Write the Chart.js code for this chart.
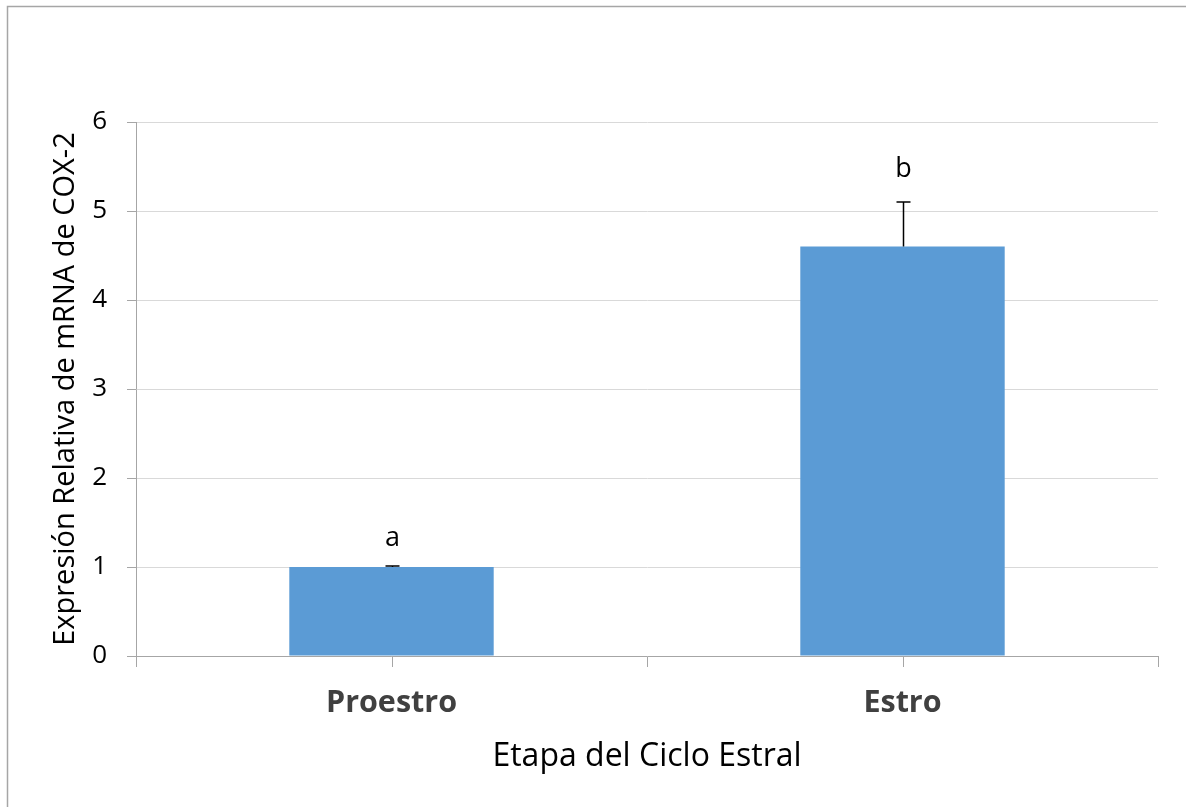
<!DOCTYPE html>
<html>
<head>
<meta charset="utf-8">
<script src="https://cdn.jsdelivr.net/npm/chart.js@4"></script>
<style>
  html, body { margin: 0; padding: 0; background: #fff; }
  #wrap { position: relative; width: 1186px; height: 807px; }
</style>
</head>
<body>
<div id="wrap"><canvas id="myChart" width="1186" height="807"></canvas></div>
<script>
// Expresión relativa de COX-2 por etapa del ciclo
const etapas = ['Proestro', 'Estro'];
const expresion = [1.0, 4.6];
const errorSup = [0.01, 0.5];
const letras = ['a', 'b'];
const yTicks = [0, 1, 2, 3, 4, 5, 6];

const FONT = '"Open Sans", "Noto Sans", sans-serif';

// gray frame along the top and left edges
const frame = {
    id: 'frame',
    beforeDraw(chart) {
        const ctx = chart.ctx;
        ctx.save();
        ctx.strokeStyle = '#a6a6a6';
        ctx.lineWidth = 1.5;
        ctx.beginPath();
        ctx.moveTo(7.5, chart.height);
        ctx.lineTo(7.5, 6.5);
        ctx.lineTo(chart.width, 6.5);
        ctx.stroke();
        ctx.restore();
    }
};

// extra tick marks under each category centre
const centerTicks = {
    id: 'centerTicks',
    afterDraw(chart) {
        const x = chart.scales.x;
        const ctx = chart.ctx;
        ctx.save();
        ctx.strokeStyle = '#a6a6a6';
        ctx.lineWidth = 1;
        etapas.forEach((e, i) => {
            const px = Math.round(x.getPixelForTick(i)) + 0.5;
            ctx.beginPath();
            ctx.moveTo(px, x.top);
            ctx.lineTo(px, x.top + 11);
            ctx.stroke();
        });
        ctx.restore();
    }
};

// upper error bars and significance letters
const errorBars = {
    id: 'errorBars',
    afterDatasetsDraw(chart) {
        const { ctx, scales: { x, y } } = chart;
        ctx.save();
        ctx.strokeStyle = '#000';
        ctx.fillStyle = '#000';
        ctx.lineWidth = 1.5;
        ctx.font = '27px ' + FONT;
        ctx.textAlign = 'center';
        ctx.textBaseline = 'alphabetic';
        expresion.forEach((v, i) => {
            const px = Math.round(x.getPixelForValue(i)) + 0.5;
            const base = y.getPixelForValue(v);
            const top = y.getPixelForValue(v + errorSup[i]);
            ctx.beginPath();
            ctx.moveTo(px, base);
            ctx.lineTo(px, top);
            ctx.moveTo(px - 7, top);
            ctx.lineTo(px + 7, top);
            ctx.stroke();
            ctx.fillText(letras[i], px, top - (i === 0 ? 20 : 25));
        });
        ctx.restore();
    }
};

const ctx = document.getElementById('myChart').getContext('2d');
const chart = new Chart(ctx, {
    type: 'bar',
    data: {
        labels: etapas,
        datasets: [{
            data: expresion,
            backgroundColor: '#5b9bd5',
            borderWidth: 0,
            barPercentage: 0.4,
            categoryPercentage: 1.0
        }]
    },
    options: {
        responsive: false,
        animation: false,
        devicePixelRatio: 1,
        layout: { padding: { top: 122, right: 28, bottom: 0, left: 0 } },
        plugins: {
            legend: { display: false },
            tooltip: { enabled: false }
        },
        scales: {
            x: {
                afterFit: s => { s.height = 151; },
                grid: {
                    offset: true,
                    drawOnChartArea: false,
                    drawTicks: true,
                    tickLength: 11,
                    color: '#a6a6a6'
                },
                border: { color: '#a6a6a6', width: 1 },
                ticks: {
                    padding: 18,
                    color: '#404040',
                    font: { family: FONT, size: 30.5, weight: 'bold' }
                },
                title: {
                    display: true,
                    text: 'Etapa del Ciclo Estral',
                    color: '#000',
                    font: { family: FONT, size: 32 },
                    padding: { top: 0, bottom: 31 }
                }
            },
            y: {
                min: 0,
                max: 6,
                afterFit: s => { s.width = 136; },
                afterBuildTicks: s => { s.ticks = yTicks.map(v => ({ value: v })); },
                grid: {
                    color: '#d9d9d9',
                    tickColor: '#a6a6a6',
                    tickLength: 9,
                    lineWidth: 1
                },
                border: { color: '#a6a6a6', width: 1 },
                ticks: {
                    padding: 20,
                    color: '#000',
                    font: { family: FONT, size: 26 }
                },
                title: {
                    display: true,
                    text: 'Expresión Relativa de mRNA de COX-2',
                    color: '#000',
                    font: { family: FONT, size: 29 },
                    padding: { top: 48, bottom: 0 }
                }
            }
        }
    },
    plugins: [frame, centerTicks, errorBars]
});
</script>
</body>
</html>
